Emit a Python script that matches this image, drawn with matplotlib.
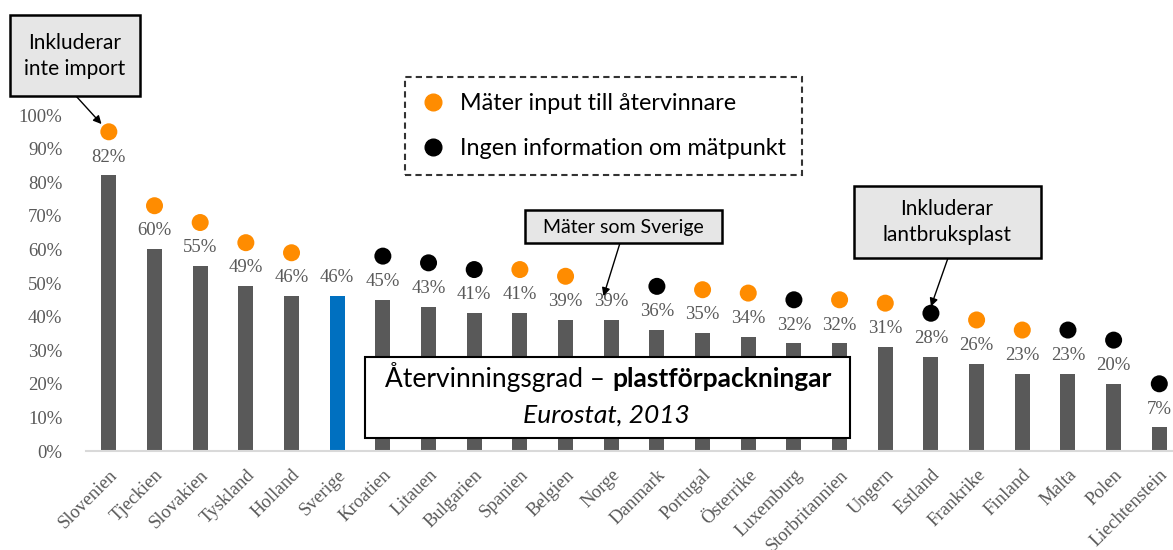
import matplotlib.pyplot as plt
from matplotlib.patches import Rectangle
from matplotlib.lines import Line2D
from matplotlib.ticker import PercentFormatter

# Data (Eurostat 2013, återvinningsgrad plastförpackningar)
countries = ['Slovenien', 'Tjeckien', 'Slovakien', 'Tyskland', 'Holland', 'Sverige',
             'Kroatien', 'Litauen', 'Bulgarien', 'Spanien', 'Belgien', 'Norge',
             'Danmark', 'Portugal', 'Österrike', 'Luxemburg', 'Storbritannien',
             'Ungern', 'Estland', 'Frankrike', 'Finland', 'Malta', 'Polen', 'Liechtenstein']
values = [0.82, 0.60, 0.55, 0.49, 0.46, 0.46, 0.45, 0.43, 0.41, 0.41, 0.39, 0.39,
          0.36, 0.35, 0.34, 0.32, 0.32, 0.31, 0.28, 0.26, 0.23, 0.23, 0.20, 0.07]
# mätpunkt: 'input' = mäter input till återvinnare, 'okand' = ingen information, '' = ingen markering
matpunkt = ['input', 'input', 'input', 'input', 'input', '',
            'okand', 'okand', 'okand', 'input', 'input', '',
            'okand', 'input', 'input', 'okand', 'input',
            'input', 'okand', 'input', 'input', 'okand', 'okand', 'okand']

GREY = '#595959'
BLUE = '#0070C0'
ORANGE = '#FF8C00'
SANS = 'Lato'
SERIF = 'Liberation Serif'

W, H = 1173, 550
fig = plt.figure(figsize=(W / 100, H / 100), dpi=100)
ax = fig.add_axes([86 / W, 1 - 451 / H, 1 - 86 / W, (451 - 115) / H])


def px(x, y):
    # figure pixels measured from top-left
    return (x / W, 1 - y / H)


def ruta(left, top, right, bottom, fc, lw=1.8, ls='-'):
    x0, y0 = px(left, bottom)
    x1, y1 = px(right, top)
    fig.patches.append(Rectangle((x0, y0), x1 - x0, y1 - y0, transform=fig.transFigure,
                                 fc=fc, ec='black', lw=lw, ls=ls, zorder=5))


x = list(range(len(countries)))
colors = [BLUE if c == 'Sverige' else GREY for c in countries]
ax.bar(x, values, width=0.33, color=colors, zorder=2)

# värdeetiketter och markeringar
for i, v in enumerate(values):
    ax.text(i, v + 0.055, f'{round(v * 100)}%', ha='center', va='center',
            fontsize=13.5, family=SERIF, color=GREY, clip_on=False)
    if matpunkt[i]:
        c = ORANGE if matpunkt[i] == 'input' else 'black'
        ax.scatter(i, v + 0.13, s=150, color=c, edgecolor='none', zorder=3, clip_on=False)

ax.set_xlim(-0.5, 23.3)
ax.set_ylim(0, 1.0)
ax.set_yticks([i / 10 for i in range(11)])
ax.yaxis.set_major_formatter(PercentFormatter(1.0, decimals=0))
ax.set_xticks(x)
ax.set_xticklabels(countries, rotation=45, ha='right', rotation_mode='anchor')
ax.tick_params(axis='both', length=0, labelcolor=GREY, labelsize=13.5)
ax.tick_params(axis='y', pad=17)
ax.tick_params(axis='x', pad=11)
for lab in ax.get_xticklabels() + ax.get_yticklabels():
    lab.set_family(SERIF)
for s in ['top', 'right', 'left']:
    ax.spines[s].set_visible(False)
ax.spines['bottom'].set_color('#d9d9d9')
ax.spines['bottom'].set_linewidth(1.5)

# förklaring
handles = [Line2D([], [], marker='o', ls='none', color=ORANGE, markersize=12,
                  label='Mäter input till återvinnare'),
           Line2D([], [], marker='o', ls='none', color='black', markersize=12,
                  label='Ingen information om mätpunkt')]
leg = fig.legend(handles=handles, loc='upper left', bbox_to_anchor=px(405, 77),
                 borderaxespad=0, fancybox=False, frameon=True,
                 prop={'family': SANS, 'size': 16.8}, labelspacing=1.05,
                 handlelength=1.05, handletextpad=0.64, borderpad=0.68)
fr = leg.get_frame()
fr.set_edgecolor('black')
fr.set_linestyle((0, (3, 2)))
fr.set_linewidth(1.5)

# anteckningsrutor
arrow = dict(arrowstyle='-|>', color='black', lw=1, mutation_scale=12, shrinkA=0, shrinkB=0)

ruta(10, 15, 140, 96, '#e6e6e6')
fig.text(*px(75, 56), 'Inkluderar\ninte import', ha='center', va='center',
         family=SANS, fontsize=15, linespacing=1.35, zorder=6)
ax.annotate('', xy=(-0.16, values[0] + 0.153), xycoords='data',
            xytext=px(76, 96), textcoords='figure fraction', arrowprops=arrow)

ruta(525, 210, 722, 243, '#e6e6e6')
fig.text(*px(623, 227), 'Mäter som Sverige', ha='center', va='center',
         family=SANS, fontsize=14, zorder=6)
ax.annotate('', xy=(10.83, values[11] + 0.071), xycoords='data',
            xytext=px(620, 243), textcoords='figure fraction', arrowprops=arrow)

ruta(854, 186, 1041, 258, '#e6e6e6')
fig.text(*px(947, 222), 'Inkluderar\nlantbruksplast', ha='center', va='center',
         family=SANS, fontsize=15, linespacing=1.35, zorder=6)
ax.annotate('', xy=(18, values[18] + 0.15), xycoords='data',
            xytext=px(948, 258), textcoords='figure fraction', arrowprops=arrow)

# rubrikruta
ruta(365, 357, 850, 438, 'white', lw=1.5)
fig.text(*px(612, 387), 'Återvinningsgrad – ', ha='right', va='baseline',
         family=SANS, fontsize=19, zorder=6)
fig.text(*px(612, 387), 'plastförpackningar', ha='left', va='baseline',
         family=SANS, fontsize=19, fontweight='bold', zorder=6)
fig.text(*px(606, 423), 'Eurostat, 2013', ha='center', va='baseline',
         family=SANS, fontsize=19, style='italic', zorder=6)

fig.savefig('out.png', dpi=100)
